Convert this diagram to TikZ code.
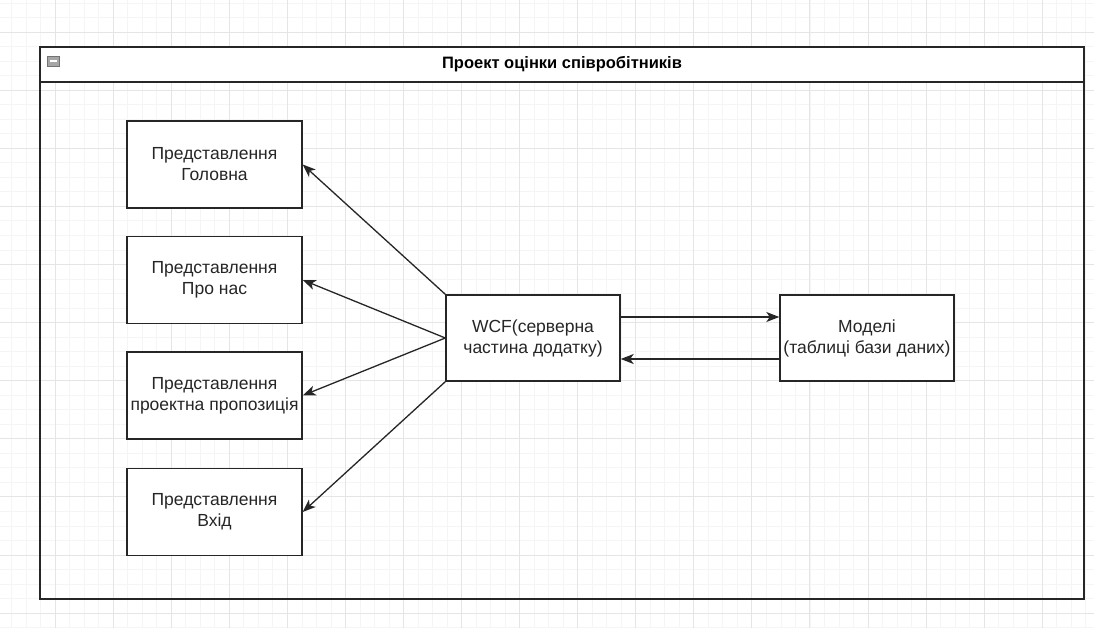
\documentclass[tikz,border=0pt]{standalone}
\usepackage{fontspec}
\setmainfont{Liberation Sans}
\usetikzlibrary{arrows.meta}
\usetikzlibrary{positioning}

\tikzset{
	viewbox/.style={draw=black!85, line width=1.4pt, fill=white, minimum width=175pt, minimum height=87pt, align=center, font=\fontsize{17.5}{21}\selectfont, text=black!85},
	link/.style={draw=black!85, line width=1.3pt, -{Stealth[length=13pt,width=10pt,inset=3.5pt]}},
	majorgrid/.style={draw=black!10, line width=0.6pt},
	minorgrid/.style={draw=black!4, line width=0.5pt},
}

\begin{document}
\begin{tikzpicture}[x=1pt, y=-1pt]

	% background and grid
	\fill[white] (0,0) rectangle (1094,628);
	\useasboundingbox (0,0) rectangle (1094,628);
	\foreach \i in {0,...,76} \draw[minorgrid] ({-3.06+14.515*\i},0) -- ++(0,628);
	\foreach \i in {0,...,45} \draw[minorgrid] (0,{-26.2+14.525*\i}) -- ++(1094,0);
	\foreach \i in {0,...,19} \draw[majorgrid] ({-3.06+58.06*\i},0) -- ++(0,628);
	\foreach \i in {0,...,11} \draw[majorgrid] (0,{-26.2+58.1*\i}) -- ++(1094,0);

	% pool with header
	\node[draw=black!85, line width=1.4pt, minimum width=1044pt, minimum height=552pt] (pool) at (562,323) {};
	\node[draw=black!85, line width=1.4pt, fill=white, minimum width=1044pt, minimum height=35pt, font=\fontsize{16.5}{20}\selectfont\bfseries] (title) at (562,64.5) {Проект оцінки співробітників};
	\node[draw=black!55, fill=black!35, line width=0.7pt, minimum width=12pt, minimum height=10pt, inner sep=0pt] (fold) at (53.5,61) {};
	\draw[white, line width=1.4pt] ([xshift=2.5pt]fold.west) -- ([xshift=-2.5pt]fold.east);

	% views
	\node[viewbox] (home) at (214.5,164.5) {Представлення\\Головна};
	\node[viewbox] (about) at (214.5,280) {Представлення\\Про нас};
	\node[viewbox] (offer) at (214.5,395.5) {Представлення\\проектна пропозиція};
	\node[viewbox] (login) at (214.5,512) {Представлення\\Вхід};

	% server and models
	\node[viewbox, minimum width=174pt, minimum height=86pt] (wcf) at (533,338) {WCF(серверна\\частина додатку)};
	\node[viewbox, minimum width=174pt, minimum height=86pt] (models) at (867,338) {Моделі\\(таблиці бази даних)};

	\draw[link] (wcf.north west) -- (home.east);
	\draw[link] (wcf.west) -- (about.east);
	\draw[link] (wcf.west) -- (offer.east);
	\draw[link] (wcf.south west) -- (login.east);
	\draw[link] ([yshift=21pt]wcf.east) -- ([yshift=21pt]models.west);
	\draw[link] ([yshift=-21pt]models.west) -- ([yshift=-21pt]wcf.east);

\end{tikzpicture}
\end{document}
